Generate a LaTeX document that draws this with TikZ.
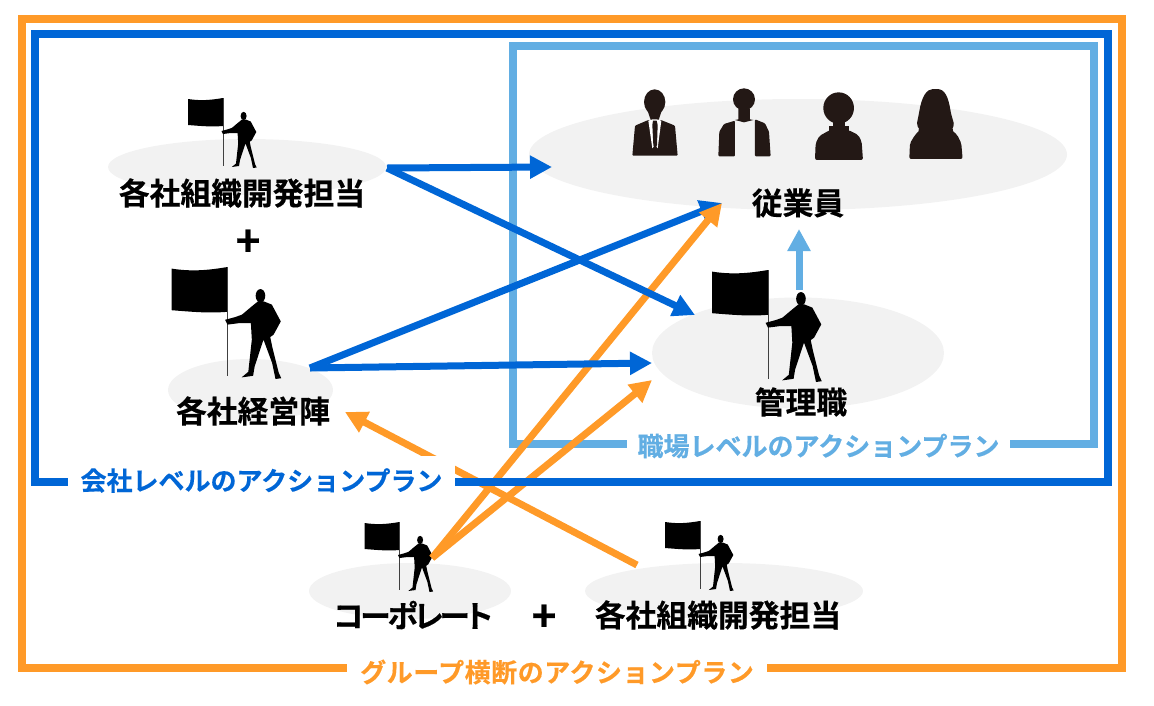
\documentclass[tikz,border=0pt]{standalone}
\usepackage{fontspec}
\setmainfont{Noto Sans CJK JP}[BoldFont={Noto Sans CJK JP Bold},BoldFeatures={FakeBold=0.4}]
\usepackage{xcolor}
\usepackage{tikz}
\usetikzlibrary{arrows.meta, shapes.geometric}
\definecolor{planorange}{HTML}{FF9A28}
\definecolor{planblue}{HTML}{0066D6}
\definecolor{planlight}{HTML}{62AEE3}
\definecolor{padgray}{HTML}{F2F2F2}
\definecolor{hairdark}{HTML}{231815}
\tikzset{
  pad/.style={ellipse, fill=padgray, inner sep=0pt},
  who/.style={font=\fontsize{30.8}{36}\selectfont\bfseries, inner sep=0pt},
  plussign/.style={font=\fontsize{42}{46}\selectfont\bfseries, inner sep=0pt},
  planlabel/.style={font=\fontsize{26}{30}\selectfont\bfseries, fill=white, inner sep=0pt, text=#1}
}
\newcommand{\planarrow}[3]{
\draw[#1, line width=7pt, -{Triangle[length=22pt, width=22pt]}] (#2) -- (#3);
}
\newcommand{\flagman}[3]{
\begin{scope}[shift={(#1,#2)}, scale=#3]
\fill (-35,1) .. controls (-22,3) and (-12,2) .. (0,0) -- (0,28)
  .. controls (-12,29) and (-22,28) .. (-35,27) -- cycle;
\draw[black!75, line width=1pt] (0,0) -- (0,68);
\fill (20.6,18) ellipse (3 and 4.2);
\fill (-1.5,33) -- (4.8,31.3) -- (9,29.8) -- (15.2,24.6) -- (19,21.5) -- (22.7,21.5) -- (27.7,23.5)
  -- (33.3,34) -- (28.8,42.3) -- (26.7,43.8) -- (28,50) -- (32,66) -- (33.6,69.5) -- (30,70)
  -- (27.9,60) -- (22.5,45.4) -- (17,62) -- (16,68) -- (8.8,69) -- (13,65.5) -- (15.2,45.4)
  -- (14.6,35) -- (7.9,35) -- (0,36) -- cycle;
\end{scope}
}

\begin{document}
\begin{tikzpicture}[x=1pt, y=-1pt]
\useasboundingbox (0,0) rectangle (1154,705);
% shadows under the people
\node[pad, minimum width=278pt, minimum height=56pt]  at (247,167)   (tantopad)  {};
\node[pad, minimum width=538pt, minimum height=111pt] at (798,154.5) (staffpad)  {};
\node[pad, minimum width=292pt, minimum height=111pt] at (798,353)   (bosspad)   {};
\node[pad, minimum width=165pt, minimum height=62pt]  at (250.5,390) (execpad)   {};
\node[pad, minimum width=202pt, minimum height=56pt]  at (410,591)   (corppad)   {};
\node[pad, minimum width=278pt, minimum height=56pt]  at (724,591)   (grouppad)  {};
% frame of the workplace level
\draw[planlight, line width=8pt] (513,46) rectangle (1094,444);
% people
\flagman{223}{98}{1}
\flagman{227.5}{267}{1.6}
\flagman{768}{270}{1.6}
\flagman{399.5}{522}{1}
\flagman{700}{521}{1}
\begin{scope}[shift={(620,80)}, scale=0.3333]
\fill[hairdark] (104,66) ellipse (32 and 38);
\fill[hairdark] (82,90) -- (126,90) -- (114,125) -- (94,125) -- cycle;
\fill[hairdark, rounded corners=1pt] (37,227) -- (45,137) -- (85,120) -- (123,120) -- (165,137) -- (173,227) -- cycle;
\fill[white] (85,122) -- (98,118) -- (110,118) -- (124,122) -- (113,205) -- (105,195) -- (97,205) -- cycle;
\fill[hairdark] (99,122) -- (110,122) -- (113,135) -- (111,195) -- (105,212) -- (100,195) -- (97,135) -- cycle;
\fill[hairdark] (372,58) ellipse (33 and 33);
\fill[hairdark] (355,85) -- (390,85) -- (390,118) -- (400,120) -- (372,127) -- (345,120) -- (355,118) -- cycle;
\fill[hairdark, rounded corners=1pt] (295,229) -- (298,155) -- (312,132) -- (345,122) -- (345,229) -- cycle;
\fill[hairdark, rounded corners=1pt] (405,118) -- (435,130) -- (447,155) -- (452,229) -- (405,229) -- cycle;
\fill[hairdark] (656,84) ellipse (46 and 47);
\fill[hairdark] (640,120) rectangle (675,145);
\fill[hairdark] (628,138) -- (686,138) -- (686,152) -- (628,152) -- cycle;
\fill[hairdark, rounded corners=2pt] (585,240) -- (587,190) -- (598,168) -- (630,150) -- (685,150) -- (715,165) -- (725,185) -- (729,240) -- cycle;
\fill[hairdark, rounded corners=2pt] (868,237) -- (870,190) -- (885,165) -- (900,150) -- (890,135) -- (897,100)
  .. controls (905,50) and (920,27) .. (945,27) .. controls (975,27) and (985,50) .. (993,100)
  -- (1003,135) -- (995,150) -- (1012,165) -- (1024,190) -- (1028,237) -- cycle;
\end{scope}
% ends of the arrows
\coordinate (tantoout) at (387,168);
\coordinate (staffin)  at (552,167);
\coordinate (bossin)   at (695,315);
\coordinate (execout)  at (310,368);
\coordinate (staffhi)  at (722,203);
\coordinate (bosslow)  at (652,363);
\coordinate (execin)   at (345,412);
\coordinate (groupout) at (637,565);
\coordinate (corpout)  at (432,558);
\coordinate (bossmid)  at (652,380);
\coordinate (bosstop)  at (799,290);
\coordinate (staffup)  at (799,229);
\planarrow{planorange}{groupout}{execin}
\planarrow{planorange}{corpout}{bossmid}
\planarrow{planblue}{execout}{staffhi}
\planarrow{planorange}{corpout}{staffhi}
\planarrow{planlight}{bosstop}{staffup}
% frames
\draw[planorange, line width=8pt] (22,19) rectangle (1122,668);
\draw[planblue, line width=8pt] (35,34) rectangle (1108,482);
\planarrow{planblue}{tantoout}{staffin}
\planarrow{planblue}{tantoout}{bossin}
\planarrow{planblue}{execout}{bosslow}
% labels of the frames
\node[planlabel=planblue, minimum width=387pt, minimum height=49pt] at (261.5,480.5) (companyplan) {会社レベルのアクションプラン};
\node[planlabel=planlight, minimum width=383pt, minimum height=34pt] at (818.5,446) (workplan) {職場レベルのアクションプラン};
\node[planlabel=planorange, minimum width=420pt, minimum height=36pt] at (557,672) (groupplan) {\addfontfeature{LetterSpace=2}グループ横断のアクションプラン};
% names
\node[who] at (242,193) (tanto) {各社組織開発担当};
\node[plussign] at (248,243) (plusa) {+};
\node[who] at (253,411) (exec)  {各社経営陣};
\node[who] at (798,203) (staff) {従業員};
\node[who] at (801,402) (boss)  {管理職};
\node[who] at (413,615) (corp)  {\addfontfeature{RawFeature=+palt,LetterSpace=-10}コーポレート};
\node[plussign] at (544,618) (plusb) {+};
\node[who] at (718,615) (group) {各社組織開発担当};
\end{tikzpicture}
\end{document}
